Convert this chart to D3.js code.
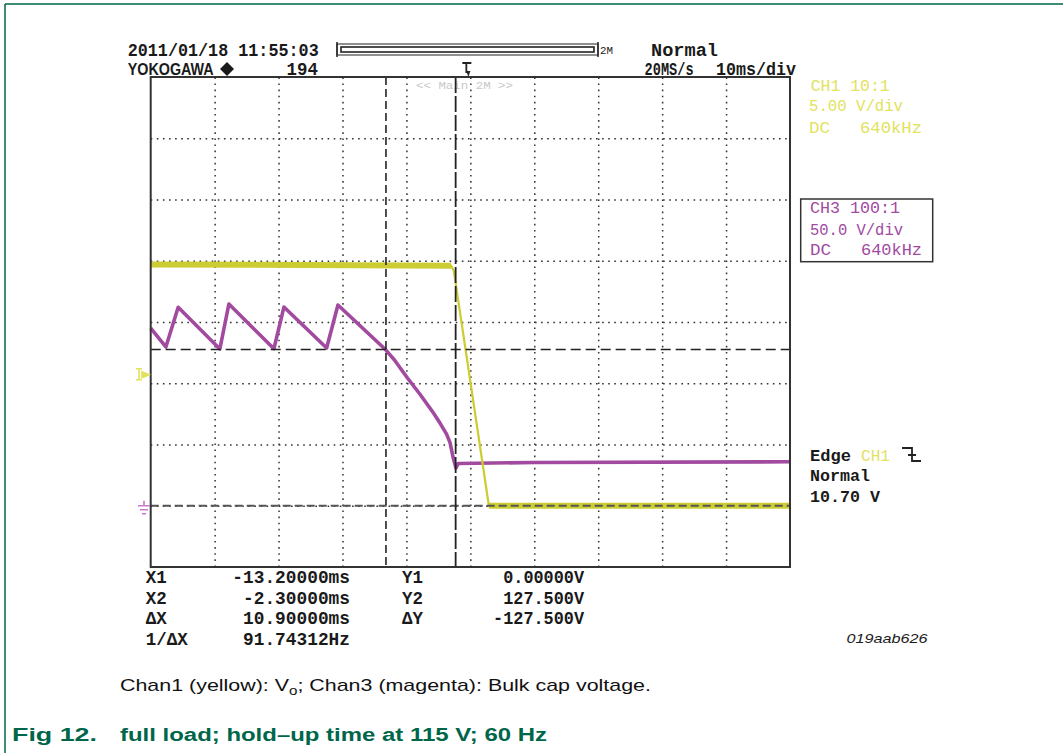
<!DOCTYPE html>
<html>
<head>
<meta charset="utf-8">
<script src="https://cdn.jsdelivr.net/npm/d3@7"></script>
<style>
body { margin: 0; background: #fff; }
svg { display: block; }
</style>
</head>
<body>
<div id="chart"></div>
<script>
// CH1 (yellow) output voltage, time in ms, volts
const ch1Time = [-50, -3.0, -2.6, -2.25, 2.9, 50];
const ch1Volt = [19.7, 19.6, 19.2, 18.0, 0, 0];

// CH3 (magenta) bulk cap voltage
const ch3Time = [-50, -47.63, -45.7, -39.18, -37.77, -30.73, -29.16, -22.48, -20.71,
                 -13.2, -11.87, -9.84, -7.88, -5.77, -4.75, -3.72, -3.18, -2.72, -2.25, -1.9, 10, 50];
const ch3Volt = [145.1, 129.6, 162.0, 128.0, 164.7, 128.2, 162.2, 128.8, 163.9,
                 127.1, 119.0, 104.3, 91.0, 75.7, 67.5, 58.5, 51.5, 40.0, 30.8, 34.5, 35.3, 35.9];

// cursors
const xCursors = [-13.2, -2.3];   // X1, X2 (ms)
const yCursors = [0, 127.5];      // Y1, Y2 (V on CH3)
const trigLevel = 10.7;           // V on CH1

// grid (10 ms/div, 8 vertical divisions)
const gridX = [-40, -30, -20, -10, 0, 10, 20, 30, 40];
const gridDiv = [-3, -2, -1, 0, 1, 2, 3];

// cursor readout
const readLabels = ["X1", "X2", "ΔX", "1/ΔX"];
const readValues = ["-13.20000ms", "-2.30000ms", "10.90000ms", "91.74312Hz"];
const yLabels = ["Y1", "Y2", "ΔY"];
const yValues = ["0.00000V", "127.500V", "-127.500V"];

const W = 1063, H = 753;
const scrL = 150.7, scrR = 790, scrT = 77, scrB = 567;
const mono = "'Liberation Mono', 'DejaVu Sans Mono', monospace";
const sans = "'Liberation Sans', Arial, sans-serif";
const yellow = "#cccc33", yellowText = "#e2e25c", magenta = "#a14a9f", green = "#00664a";

const svg = d3.select("#chart").append("svg").attr("width", W).attr("height", H);
svg.append("rect").attr("width", W).attr("height", H).attr("fill", "#fff");

var x = d3.scaleLinear().domain([-50, 50]).range([scrL, scrR]);
var yDiv = d3.scaleLinear().domain([-4, 4]).range([scrB, scrT]);
var y1 = d3.scaleLinear().domain([-5, 35]).range([scrB, scrT]);      // 5 V/div, gnd 1 div up
var y3 = d3.scaleLinear().domain([-50, 350]).range([scrB, scrT]);    // 50 V/div

function txt(g, px, py, s, size, w, o) {
  o = o || {};
  var t = g.append("text").attr("x", px).attr("y", py).text(s)
    .attr("font-size", size)
    .attr("font-family", o.family || mono)
    .attr("font-weight", o.weight || "bold")
    .attr("fill", o.fill || "#1a1a1a");
  if (w) t.attr("textLength", w).attr("lengthAdjust", "spacingAndGlyphs");
  if (o.anchor) t.attr("text-anchor", o.anchor);
  if (o.style) t.attr("font-style", o.style);
  return t;
}

// page frame
svg.append("line").attr("x1", 5).attr("x2", W).attr("y1", 4).attr("y2", 4)
  .attr("stroke", green).attr("stroke-width", 1.5);
svg.append("line").attr("x1", 5).attr("x2", 5).attr("y1", 4).attr("y2", H)
  .attr("stroke", green).attr("stroke-width", 1.5);

// grid
var gx = svg.append("g").attr("transform", "translate(0," + scrB + ")")
  .call(d3.axisBottom(x).tickValues(gridX).tickSize(-(scrB - scrT)).tickFormat(""));
var gy = svg.append("g").attr("transform", "translate(" + scrL + ",0)")
  .call(d3.axisLeft(yDiv).tickValues(gridDiv).tickSize(-(scrR - scrL)).tickFormat(""));
[gx, gy].forEach(function(g) {
  g.select(".domain").remove();
  g.selectAll(".tick line").attr("stroke", "#333").attr("stroke-width", 1.5)
    .attr("stroke-dasharray", "1.6,4.5");
});

// "<< Main 2M >>"
txt(svg, 416, 89, "<< Main 2M >>", 11, 97, {fill: "#c8c8c8", weight: "normal"});

// traces
var line1 = d3.line().x(function(d) { return x(d[0]); }).y(function(d) { return y1(d[1]); });
var line3 = d3.line().x(function(d) { return x(d[0]); }).y(function(d) { return y3(d[1]); });

svg.append("path").datum(d3.zip(ch3Time, ch3Volt))
  .attr("d", line3).attr("fill", "none").attr("stroke", magenta)
  .attr("stroke-width", 3.6).attr("stroke-linejoin", "round");
svg.append("path").datum(d3.zip(ch1Time, ch1Volt))
  .attr("d", line1).attr("fill", "none").attr("stroke", yellow)
  .attr("stroke-width", 2.2).attr("stroke-linejoin", "round");
// the flat, noisy parts of CH1 are a wide band
svg.append("line").attr("x1", x(ch1Time[0])).attr("x2", x(ch1Time[1]))
  .attr("y1", y1(ch1Volt[0])).attr("y2", y1(ch1Volt[1]))
  .attr("stroke", yellow).attr("stroke-width", 6);
svg.append("line").attr("x1", x(ch1Time[4])).attr("x2", x(ch1Time[5]))
  .attr("y1", y1(ch1Volt[4])).attr("y2", y1(ch1Volt[5]))
  .attr("stroke", yellow).attr("stroke-width", 6);

// cursors
svg.append("line").attr("x1", scrL).attr("x2", scrR)
  .attr("y1", y3(yCursors[1])).attr("y2", y3(yCursors[1]))
  .attr("stroke", "#222").attr("stroke-width", 1.6).attr("stroke-dasharray", "10,5");
svg.append("line").attr("x1", scrL).attr("x2", scrR)
  .attr("y1", y3(yCursors[0])).attr("y2", y3(yCursors[0]))
  .attr("stroke", "#555").attr("stroke-width", 2.2).attr("stroke-dasharray", "8,4");
svg.append("line").attr("x1", x(xCursors[0])).attr("x2", x(xCursors[0]))
  .attr("y1", scrT).attr("y2", scrB)
  .attr("stroke", "#222").attr("stroke-width", 1.6).attr("stroke-dasharray", "8,4");
svg.append("line").attr("x1", x(xCursors[1])).attr("x2", x(xCursors[1]))
  .attr("y1", scrT).attr("y2", scrB)
  .attr("stroke", "#222").attr("stroke-width", 1.8).attr("stroke-dasharray", "16,3");

// screen border
svg.append("rect").attr("x", scrL).attr("y", scrT)
  .attr("width", scrR - scrL).attr("height", scrB - scrT)
  .attr("fill", "none").attr("stroke", "#333").attr("stroke-width", 2);

// trigger level marker (CH1)
var ty = y1(trigLevel);
svg.append("path")
  .attr("d", "M136," + (ty - 6) + "h6M139," + (ty - 6) + "v11M136," + (ty + 5) + "h6M142," + (ty - 3) + "l7,3l-7,3z")
  .attr("stroke", yellowText).attr("stroke-width", 1.6).attr("fill", yellowText);
// ground marker (CH3)
var gy0 = y3(0);
svg.append("path")
  .attr("d", "M144," + (gy0 - 5) + "v5M138," + gy0 + "h12M140," + (gy0 + 4) + "h8M142," + (gy0 + 8) + "h4")
  .attr("stroke", "#c47cc4").attr("stroke-width", 1.6).attr("fill", "none");

// header
txt(svg, 127.7, 56, "2011/01/18 11:55:03", 18, 191);
txt(svg, 651, 56, "Normal", 18, 67);
svg.append("rect").attr("x", 337).attr("y", 44).attr("width", 261).attr("height", 11)
  .attr("fill", "#fff").attr("stroke", "#222").attr("stroke-width", 1);
svg.append("rect").attr("x", 341).attr("y", 47).attr("width", 253).attr("height", 5)
  .attr("fill", "#fff").attr("stroke", "#222").attr("stroke-width", 1.6);
svg.append("path").attr("d", "M337,42v15M598,42v15").attr("stroke", "#222").attr("stroke-width", 1.5);
txt(svg, 600, 54, "2M", 10, 13, {weight: "normal"});
txt(svg, 127.7, 75, "YOKOGAWA", 16, 86, {family: sans});
svg.append("path").attr("d", "M227,62l7,7l-7,7l-7,-7z").attr("fill", "#1a1a1a");
txt(svg, 286.6, 75, "194", 18, 31.4);
txt(svg, 644.6, 75, "20MS/s", 18, 49);
txt(svg, 716, 75, "10ms/div", 18, 80);
// trigger position marker
var tx = x(0) - 3;
svg.append("path").attr("d", "M" + (tx - 5) + ",63h9M" + (tx - 1) + ",63v10")
  .attr("stroke", "#222").attr("stroke-width", 1.8).attr("fill", "none");
svg.append("path").attr("d", "M" + (tx - 1) + ",71l4,0l-2,6z").attr("fill", "#222");

// channel panels
txt(svg, 810.7, 91, "CH1 10:1", 16, 79, {fill: yellowText, weight: "normal"});
txt(svg, 809, 111, "5.00 V/div", 16, 94, {fill: yellowText, weight: "normal"});
txt(svg, 809, 132.5, "DC", 16, 21, {fill: yellowText, weight: "normal"});
txt(svg, 860, 132.5, "640kHz", 16, 62, {fill: yellowText, weight: "normal"});

svg.append("rect").attr("x", 800.7).attr("y", 199).attr("width", 132).attr("height", 62.7)
  .attr("fill", "none").attr("stroke", "#333").attr("stroke-width", 1.5);
txt(svg, 810, 213.3, "CH3 100:1", 16, 90, {fill: magenta, weight: "normal"});
txt(svg, 810, 234.5, "50.0 V/div", 16, 93, {fill: magenta, weight: "normal"});
txt(svg, 810, 255, "DC", 16, 21, {fill: magenta, weight: "normal"});
txt(svg, 861, 255, "640kHz", 16, 61, {fill: magenta, weight: "normal"});

// trigger panel
txt(svg, 810, 460.7, "Edge", 17, 41);
txt(svg, 861, 460.7, "CH1", 16, 29, {fill: yellowText, weight: "normal"});
svg.append("path").attr("d", "M902,448h10v13h9M908,455h8")
  .attr("stroke", "#222").attr("stroke-width", 1.8).attr("fill", "none");
txt(svg, 810, 480.7, "Normal", 17, 60);
txt(svg, 810, 501.7, "10.70 V", 17, 70);

// cursor readout
var rowY = [583, 604, 624, 645];
readLabels.forEach(function(s, i) {
  txt(svg, 145.7, rowY[i], s, 18, s.length * 10.5);
  txt(svg, 350, rowY[i], readValues[i], 18, readValues[i].length * 10.7, {anchor: "end"});
});
yLabels.forEach(function(s, i) {
  txt(svg, 402, rowY[i], s, 18, s.length * 10.5);
  txt(svg, 584, rowY[i], yValues[i], 18, yValues[i].length * 10.1, {anchor: "end"});
});
txt(svg, 846.5, 643, "019aab626", 13, 81, {family: sans, weight: "normal", style: "italic"});

// captions
var cap = svg.append("text").attr("x", 120).attr("y", 691)
  .attr("font-family", sans).attr("font-size", 17).attr("fill", "#111")
  .attr("textLength", 531).attr("lengthAdjust", "spacingAndGlyphs");
cap.append("tspan").text("Chan1 (yellow): V");
cap.append("tspan").text("o").attr("font-size", 12).attr("dy", 4);
cap.append("tspan").text("; Chan3 (magenta): Bulk cap voltage.").attr("dy", -4);

txt(svg, 12, 741, "Fig 12.", 18, 85, {family: sans, fill: green});
txt(svg, 120, 741, "full load; hold\u2013up time at 115 V; 60 Hz", 18, 427, {family: sans, fill: green});
</script>
</body>
</html>
